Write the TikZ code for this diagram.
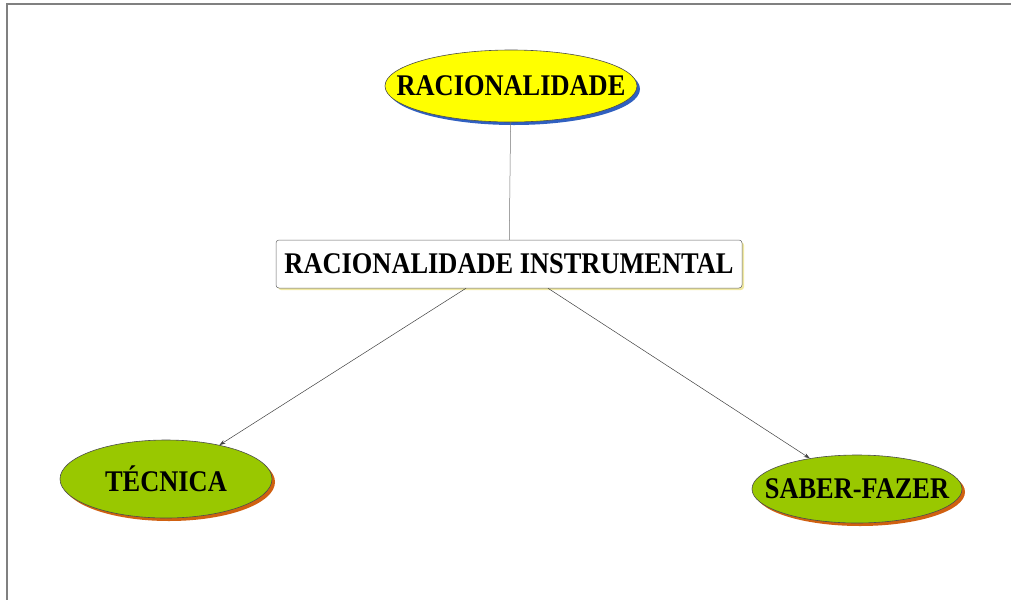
\documentclass[tikz,border=0pt]{standalone}
\usepackage{fontspec}
\setmainfont{Liberation Serif}
\usetikzlibrary{shapes.geometric,shadows,calc,arrows.meta}
\definecolor{ygreen}{HTML}{99C800}
\definecolor{yell}{HTML}{FFFF00}
\definecolor{shblue}{HTML}{3060C0}
\definecolor{shorange}{HTML}{D06010}
\definecolor{shyel}{HTML}{F0E8A0}
\newcommand{\lbltext}[1]{\scalebox{0.88}[1]{#1}}
\tikzset{
  lbl/.style={font=\fontsize{30}{32}\selectfont\bfseries, text=black, inner sep=0pt},
  topell/.style={ellipse, draw=black!70, line width=0.6pt, fill=yell, minimum width=252pt, minimum height=72pt, inner sep=0pt,
    drop shadow={shadow xshift=3pt, shadow yshift=-3pt, fill=shblue, opacity=1}},
  grell/.style={ellipse, draw=black!70, line width=0.6pt, fill=ygreen, inner sep=0pt,
    drop shadow={shadow xshift=3pt, shadow yshift=-3pt, fill=shorange, opacity=1}},
  midbox/.style={rectangle, rounded corners=3pt, draw=black!60, line width=0.5pt, fill=white, minimum width=466pt, minimum height=48pt, inner sep=0pt,
    drop shadow={shadow xshift=2pt, shadow yshift=-2pt, fill=shyel, opacity=1}},
  conn/.style={draw=black!55, line width=0.5pt},
  arr/.style={draw=black!75, line width=0.5pt, -{Stealth[length=6pt,width=4pt]}},
  frame/.style={draw=black!50, line width=1.5pt}
}
\begin{document}
\begin{tikzpicture}[x=1pt,y=-1pt]
\useasboundingbox (0,0) rectangle (1011,600);
\coordinate (tl) at (7,4);
\coordinate (tr) at (1011,4);
\coordinate (bl) at (7,600);
\draw[frame] (tr) -- (tl) -- (bl);
\node[topell] (rac) at (511,86) {};
\node[lbl] (racT) at (rac.center) {\lbltext{RACIONALIDADE}};
\node[midbox] (inst) at (509,264) {};
\node[lbl] (instT) at (inst.center) {\lbltext{RACIONALIDADE INSTRUMENTAL}};
\node[grell, minimum width=212pt, minimum height=78pt] (tec) at (166,479) {};
\node[lbl] (tecT) at (tec.center) {\lbltext{TÉCNICA}};
\node[grell, minimum width=210pt, minimum height=68pt] (sab) at (857,489) {};
\node[lbl] (sabT) at (sab.center) {\lbltext{SABER-FAZER}};
\draw[conn] (rac) -- (inst);
\coordinate (s1) at ($(inst.south)+(-43,0)$);
\coordinate (s2) at ($(inst.south)+(39,0)$);
\draw[arr] (s1) -- (tec);
\draw[arr] (s2) -- (sab);
\end{tikzpicture}
\end{document}
